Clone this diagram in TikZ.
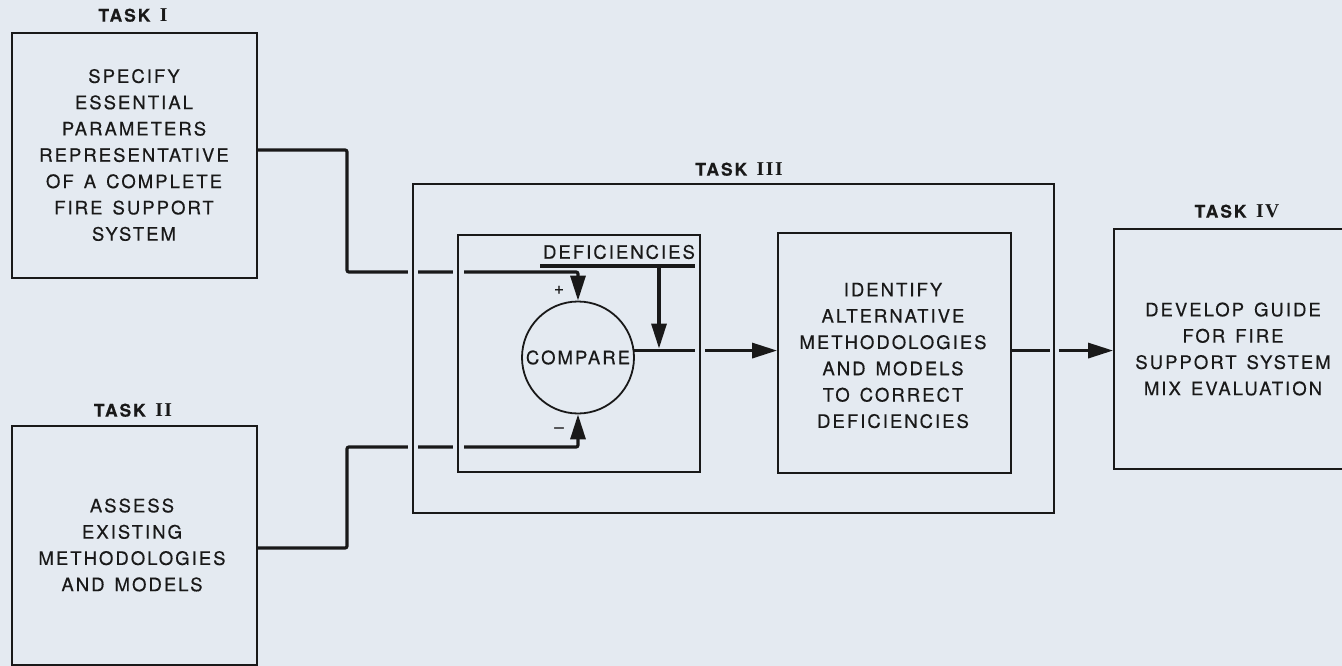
\documentclass[tikz,border=0pt]{standalone}
\usepackage{fontspec}
\setmainfont{TeX Gyre Heros}[LetterSpace=11,FakeBold=0.4,WordSpace=1.4]
\newfontfamily\numfont{Liberation Serif}[Scale=1.12,LetterSpace=8]
\usetikzlibrary{arrows.meta}
\pgfdeclarelayer{bgfill}
\pgfdeclarelayer{background}
\pgfsetlayers{bgfill,background,main}
\definecolor{bg}{RGB}{228,234,241}
\definecolor{ink}{RGB}{25,25,25}
\begin{document}
\begin{tikzpicture}[x=1pt,y=-1pt,
  box/.style={draw=ink,line width=1.8pt,inner sep=0pt,rectangle},
  txt/.style={font=\fontsize{18.5}{26.3}\selectfont,align=center,text=ink,inner sep=0pt},
  lbl/.style={font=\fontsize{17.5}{20}\selectfont\bfseries,text=ink,inner sep=0pt,anchor=base},
  sign/.style={font=\fontsize{17}{17}\selectfont,text=ink,inner sep=0pt},
  conn/.style={draw=ink,line width=3.2pt},
  arr/.style={conn,-{Triangle[length=25pt,width=15pt]}},
  gapmask/.style={fill=bg,draw=none},
]
\useasboundingbox (0,0) rectangle (1342,666);
\begin{pgfonlayer}{bgfill}
  \fill[bg] (0,0) rectangle (1342,666);
\end{pgfonlayer}

% boxes
\node[box,minimum width=245pt,minimum height=245pt] (t1) at (134.5,155.5) {};
\node[txt] (t1txt) at (134,155) {SPECIFY\\ESSENTIAL\\PARAMETERS\\REPRESENTATIVE\\OF A COMPLETE\\FIRE SUPPORT\\SYSTEM};
\node[lbl] (t1lbl) at ([xshift=-1.5pt,yshift=10.5pt]t1.north) {TASK {\numfont I}};

\node[box,minimum width=245pt,minimum height=239pt] (t2) at (134.5,545.5) {};
\node[txt] (t2txt) at (132,545) {ASSESS\\EXISTING\\METHODOLOGIES\\AND MODELS};
\node[lbl] (t2lbl) at ([xshift=-1.5pt,yshift=8.5pt]t2.north) {TASK {\numfont II}};

\node[box,minimum width=641pt,minimum height=329pt] (t3) at (733.5,348.5) {};
\node[lbl] (t3lbl) at ([xshift=5.5pt,yshift=7.5pt]t3.north) {TASK {\numfont III}};

\node[box,minimum width=242pt,minimum height=237pt] (inner) at (579,353.5) {};
\node[draw=ink,line width=1.8pt,circle,minimum size=112pt,inner sep=0pt,txt] (cmp) at (578,357.5) {COMPARE};
\node[txt] (def) at (619,252) {DEFICIENCIES};
\node[sign] (plus) at (559,290) {+};
\node[sign] (minus) at (559,430) {\textendash};

\node[box,minimum width=233pt,minimum height=240pt] (id) at (894.5,353) {};
\node[txt] (idtxt) at (893,355.5) {IDENTIFY\\ALTERNATIVE\\METHODOLOGIES\\AND MODELS\\TO CORRECT\\DEFICIENCIES};

\node[box,minimum width=238pt,minimum height=240pt] (t4) at (1233,349) {};
\node[txt] (t4txt) at (1233,349) {DEVELOP GUIDE\\FOR FIRE\\SUPPORT SYSTEM\\MIX EVALUATION};
\node[lbl] (t4lbl) at ([xshift=4pt,yshift=10.5pt]t4.north) {TASK {\numfont IV}};

\coordinate (ul) at (540,266);
\coordinate (ur) at (695,266);
\coordinate (dj) at (659,266);

\begin{pgfonlayer}{background}
  \draw[arr,rounded corners=2pt] ([yshift=5.5pt]t1.east) -- (347,150) -- (347,272) -- (cmp.north |- 0,272) -- (cmp.north);
  \draw[arr,rounded corners=2pt] ([yshift=-2.5pt]t2.east) -- (347,548) -- (347,447) -- (cmp.south |- 0,447) -- (cmp.south);
  \draw[conn] (ul) -- (ur);
  \draw[arr] (dj) -- ([yshift=2pt]dj |- cmp.7);
  \draw[arr] (cmp.7) -- (cmp.7 -| id.west);
  \draw[arr] (cmp.7 -| id.east) -- (cmp.7 -| t4.west);
  % gaps where connectors cross box borders
  \fill[gapmask] (408,265) rectangle (418,279);
  \fill[gapmask] (453,265) rectangle (464,279);
  \fill[gapmask] (408,440) rectangle (418,454);
  \fill[gapmask] (453,440) rectangle (464,454);
  \fill[gapmask] (695,343) rectangle (705,358);
  \fill[gapmask] (1050,343) rectangle (1059,358);
\end{pgfonlayer}
\end{tikzpicture}
\end{document}
